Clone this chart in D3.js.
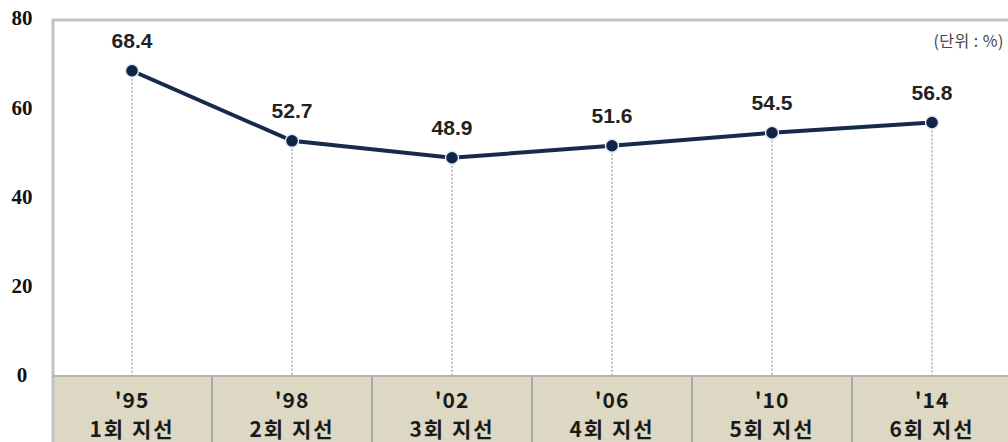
<!DOCTYPE html>
<html><head><meta charset="utf-8">
<script src="https://cdn.jsdelivr.net/npm/d3@7/dist/d3.min.js"></script>
<style>body{margin:0;background:#fff}svg{display:block}</style>
</head><body>
<svg id="c" width="1008" height="442"></svg>
<script>
const years = ["'95","'98","'02","'06","'10","'14"];
const rounds = ["1회 지선","2회 지선","3회 지선","4회 지선","5회 지선","6회 지선"];
const values = [68.4,52.7,48.9,51.6,54.5,56.8];
const yTicks = [0,20,40,60,80];
const unitLabel = "(단위 : %)";

const svg = d3.select("#c");
const L = 52, R = 1012, T = 19, B = 376, bandBottom = 442;
const x = d3.scaleBand().domain(years).range([L, R]).padding(0);
const y = d3.scaleLinear().domain([0,80]).range([B, T]);

// category band
svg.append("rect").attr("x",L).attr("y",B).attr("width",R-L).attr("height",bandBottom-B).attr("fill","#ddd8c3");
svg.selectAll(".sep").data(years.slice(1)).enter().append("line")
  .attr("x1",d=>x(d)).attr("x2",d=>x(d)).attr("y1",B).attr("y2",bandBottom)
  .attr("stroke","#a8a8a8").attr("stroke-width",2);

// frame
svg.append("line").attr("x1",L).attr("x2",1008).attr("y1",T+1).attr("y2",T+1).attr("stroke","#c3c3c3").attr("stroke-width",3);
svg.append("line").attr("x1",L+1).attr("x2",L+1).attr("y1",T).attr("y2",bandBottom).attr("stroke","#c3c3c3").attr("stroke-width",3);
svg.append("line").attr("x1",L).attr("x2",1008).attr("y1",B).attr("y2",B).attr("stroke","#b5b5b5").attr("stroke-width",2);

// y ticks
svg.selectAll(".yt").data(yTicks).enter().append("text")
  .attr("x",22).attr("y",d=>y(d)).attr("dy","0.3em").attr("text-anchor","middle")
  .attr("font-family","Liberation Serif, serif").attr("font-weight","bold").attr("font-size",21)
  .attr("fill","#111").text(d=>d);

const cx = d => x(d) + x.bandwidth()/2;

// drop lines
svg.selectAll(".drop").data(years).enter().append("line")
  .attr("x1",cx).attr("x2",cx).attr("y1",(d,i)=>y(values[i])).attr("y2",B)
  .attr("stroke","#aaa").attr("stroke-width",1.5).attr("stroke-dasharray","2,2");

// line
const line = d3.line().x((d,i)=>cx(years[i])).y(d=>y(d));
svg.append("path").datum(values).attr("d",line).attr("fill","none")
  .attr("stroke","#172a4b").attr("stroke-width",4);

// markers
svg.selectAll(".pt").data(values).enter().append("circle")
  .attr("cx",(d,i)=>cx(years[i])).attr("cy",d=>y(d)).attr("r",6.5)
  .attr("fill","#102447").attr("stroke","#dfe8f5").attr("stroke-width",1.5);

// value labels
svg.selectAll(".vl").data(values).enter().append("text")
  .attr("x",(d,i)=>cx(years[i])).attr("y",d=>y(d)-23).attr("text-anchor","middle")
  .attr("font-family","Liberation Sans, Arial, sans-serif").attr("font-weight","bold").attr("font-size",21)
  .attr("fill","#222").text(d=>d.toFixed(1));

// category labels
svg.selectAll(".yr").data(years).enter().append("text")
  .attr("x",cx).attr("y",408).attr("text-anchor","middle")
  .attr("font-family","Noto Sans CJK KR, sans-serif").attr("font-weight","bold").attr("font-size",21)
  .attr("letter-spacing",1).attr("fill","#1a1a1a").text(d=>d);
svg.selectAll(".rd").data(rounds).enter().append("text")
  .attr("x",(d,i)=>cx(years[i])).attr("y",437).attr("text-anchor","middle")
  .attr("font-family","Noto Sans CJK KR, sans-serif").attr("font-weight","bold").attr("font-size",21)
  .attr("letter-spacing",2).attr("fill","#1a1a1a").text(d=>d);

// unit
svg.append("text").attr("x",1004).attr("y",47).attr("text-anchor","end")
  .attr("font-family","Noto Sans CJK KR, sans-serif").attr("font-size",16)
  .attr("letter-spacing",0.5).attr("fill","#444").text(unitLabel);
</script>
</body></html>
